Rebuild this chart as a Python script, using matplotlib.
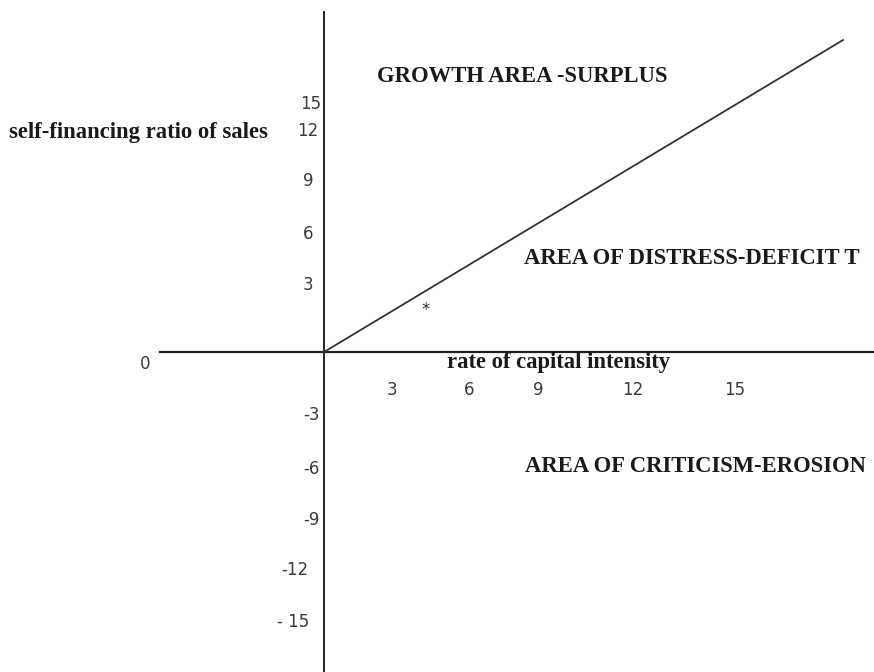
import numpy as np
import matplotlib.pyplot as plt

# tick values on the two axes
x_ticks = [3, 6, 9, 12, 15]
y_ticks = [15, 12, 9, 6, 3, -3, -6, -9, -12, -15]
y_tick_text = ["15", "12", "9", "6", "3", "-3", "-6", "-9", "-12", "- 15"]

# the boundary line: self-financing ratio = capital intensity
line_x = np.array([0, 18])
line_y = np.array([0, 18])

# hand-placed label spots (the drawing is not to scale)
x_label_pos = [2.36, 5.03, 7.42, 10.72, 14.26]
y_label_pos = [14.31, 12.75, 9.87, 6.81, 3.87, -3.64, -6.75, -9.69, -12.58, -15.58]
y_label_right = [-0.1, -0.2, -0.38, -0.38, -0.38, -0.15, -0.15, -0.15, -0.55, -0.52]

sx = 28.83  # px per unit
sy = 17.33
ox, oy = 324, 352

fig = plt.figure(figsize=(8.74, 6.72), dpi=100)
ax = fig.add_axes([0, 0, 1, 1])
ax.set_xlim(-ox / sx, (874 - ox) / sx)
ax.set_ylim(-(672 - oy) / sy, oy / sy)
ax.axis("off")

# axes through the origin
ax.plot([(160 - ox) / sx, (874 - ox) / sx], [0, 0], color="#222222", lw=1.6)
ax.plot([0, 0], [-(672 - oy) / sy, (oy - 12) / sy], color="#222222", lw=1.4)
ax.plot(line_x, line_y, color="#333333", lw=1.3)

num = dict(family="DejaVu Sans", fontsize=12, color="#3a3a3a")
bold = dict(family="Liberation Serif", fontweight="bold", fontsize=16.3, color="#1a1a1a")

for v, xp in zip(x_ticks, x_label_pos):
    ax.text(xp, -2.19, str(v), ha="center", va="center", **num)
for t, yp, xr in zip(y_tick_text, y_label_pos, y_label_right):
    ax.text(xr, yp, t, ha="right", va="center", **num)
ax.text(-6.21, -0.69, "0", ha="center", va="center", **num)

ax.text(6.87, 15.87, "GROWTH AREA -SURPLUS", ha="center", va="center", **bold)
ax.text(12.76, 5.42, "AREA OF DISTRESS-DEFICIT T", ha="center", va="center", **bold)
ax.text(12.87, -6.58, "AREA OF CRITICISM-EROSION", ha="center", va="center", **bold)
ax.text(-6.45, 12.64, "self-financing ratio of sales", ha="center", va="center", **bold)
ax.text(8.15, -0.63, "rate of capital intensity", ha="center", va="center", **bold)
ax.text(3.54, 2.4, "*", ha="center", va="center", family="DejaVu Sans", fontsize=12, color="#333333")

fig.savefig("out.png", dpi=100)
